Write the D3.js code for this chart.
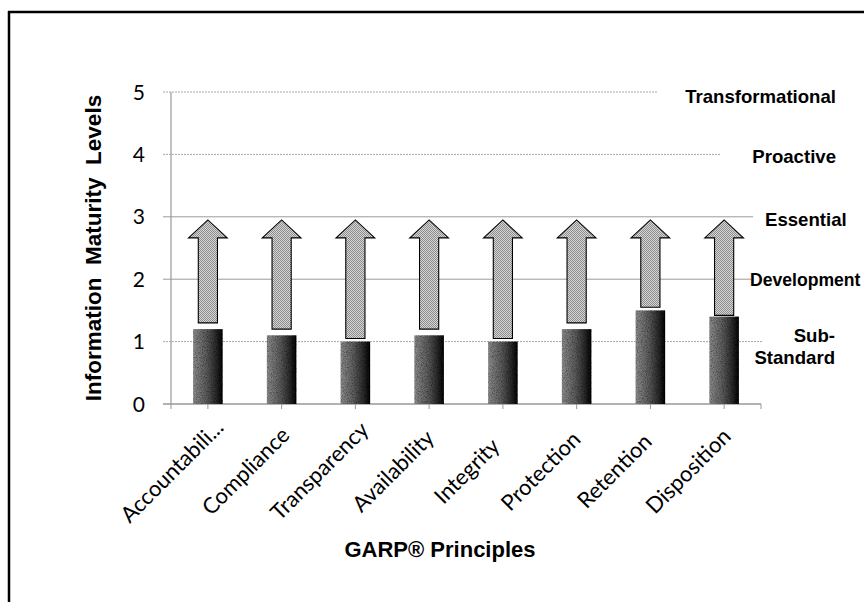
<!DOCTYPE html>
<html>
<head>
<meta charset="utf-8">
<script src="https://cdn.jsdelivr.net/npm/d3@7"></script>
<style>
  html, body { margin: 0; padding: 0; background: #fff; }
  svg { display: block; }
</style>
</head>
<body>
<svg id="chart" width="864" height="602"></svg>
<script>
// ---------- data ----------
const categories = ["Accountabili...", "Compliance", "Transparency", "Availability",
                    "Integrity", "Protection", "Retention", "Disposition"];
const currentLevels = [1.2, 1.1, 1.0, 1.1, 1.0, 1.2, 1.5, 1.4];
const arrowStarts   = [1.3, 1.2, 1.05, 1.2, 1.05, 1.3, 1.55, 1.42];
const arrowTarget   = 2.95;
const yTicks        = [0, 1, 2, 3, 4, 5];
const levelValues   = [5, 4, 3, 2, 1];
const levelNames    = [["Transformational"], ["Proactive"], ["Essential"], ["Development"], ["Sub-", "Standard"]];
const yTitle = "Information  Maturity  Levels";
const xTitle = "GARP\u00AE Principles";

// ---------- layout / style ----------
const svg = d3.select("#chart");
const W = 864, H = 602;
const plot = { left: 171, right: 761, top: 92, bottom: 404 };
// per level line: [x end, dashed?]
const gridStyle = { 5: [657, true], 4: [720, true], 3: [753, false], 2: [751, false], 1: [762, true] };
// per level label: [x, anchor, dy]
const labelStyle = [
  [836, "end", 4], [836, "end", 2], [765, "start", 3], [750, "start", 0], [835, "end", 5]
];

const x = d3.scaleBand().domain(categories).range([plot.left, plot.right]).padding(0);
const y = d3.scaleLinear().domain([0, 5]).range([plot.bottom, plot.top]);

// ---------- defs ----------
const defs = svg.append("defs");
const grad = defs.append("linearGradient").attr("id", "barGrad")
  .attr("x1", "0%").attr("x2", "100%").attr("y1", "0%").attr("y2", "0%");
[[0, "#8e8e8e"], [0.45, "#5c5c5c"], [0.8, "#262626"], [1, "#000"]].forEach(([o, c]) =>
  grad.append("stop").attr("offset", o).attr("stop-color", c));

const noise = defs.append("filter").attr("id", "speckle")
  .attr("x", 0).attr("y", 0).attr("width", 1).attr("height", 1);
noise.append("feTurbulence").attr("type", "fractalNoise").attr("baseFrequency", 1.2)
  .attr("numOctaves", 1).attr("seed", 3).attr("result", "n");
noise.append("feColorMatrix").attr("in", "n").attr("type", "matrix")
  .attr("values", "0 0 0 0 0  0 0 0 0 0  0 0 0 0 0  0 0 0 -1.6 1.0").attr("result", "m");
noise.append("feComposite").attr("in", "m").attr("in2", "SourceGraphic").attr("operator", "in").attr("result", "d");
noise.append("feBlend").attr("in", "SourceGraphic").attr("in2", "d").attr("mode", "normal").attr("result", "b");
noise.append("feComposite").attr("in", "d").attr("in2", "SourceGraphic").attr("operator", "over");

const pat = defs.append("pattern").attr("id", "checker").attr("patternUnits", "userSpaceOnUse")
  .attr("width", 2).attr("height", 2);
pat.append("rect").attr("width", 2).attr("height", 2).attr("fill", "#d6d6d6");
pat.append("rect").attr("x", 0).attr("y", 0).attr("width", 1).attr("height", 1).attr("fill", "#8c8c8c");
pat.append("rect").attr("x", 1).attr("y", 1).attr("width", 1).attr("height", 1).attr("fill", "#8c8c8c");

// ---------- frame ----------
svg.append("line").attr("x1", 9).attr("x2", 9).attr("y1", 11).attr("y2", H)
  .attr("stroke", "#000").attr("stroke-width", 2.5);
svg.append("line").attr("x1", 8).attr("x2", W).attr("y1", 12).attr("y2", 12)
  .attr("stroke", "#000").attr("stroke-width", 2.5);

// ---------- grid lines ----------
levelValues.forEach(v => {
  const [xe, dashed] = gridStyle[v];
  svg.append("line")
    .attr("x1", plot.left - 8).attr("x2", xe)
    .attr("y1", y(v)).attr("y2", y(v))
    .attr("stroke", dashed ? "#a8a8a8" : "#9a9a9a")
    .attr("stroke-width", 1)
    .attr("stroke-dasharray", dashed ? "2,1" : null);
});

// ---------- axes ----------
svg.append("line").attr("x1", plot.left).attr("x2", plot.left)
  .attr("y1", y(5)).attr("y2", y(0)).attr("stroke", "#999").attr("stroke-width", 1.2);
svg.append("line").attr("x1", plot.left - 8).attr("x2", plot.right)
  .attr("y1", y(0)).attr("y2", y(0)).attr("stroke", "#999").attr("stroke-width", 1.5);

const xTickPos = [plot.left, ...categories.map(c => x(c) + x.bandwidth() / 2), plot.right];
svg.selectAll(".xtick").data(xTickPos).join("line")
  .attr("x1", d => d).attr("x2", d => d)
  .attr("y1", y(0)).attr("y2", y(0) + 5)
  .attr("stroke", "#999").attr("stroke-width", 1);

svg.selectAll(".ylab").data(yTicks).join("text")
  .attr("x", 145).attr("y", d => y(d))
  .attr("dy", "0.36em")
  .attr("text-anchor", "end")
  .attr("font-family", "Lato, 'Open Sans', sans-serif")
  .attr("font-size", 21)
  .attr("fill", "#000")
  .text(d => d);

// ---------- bars ----------
const bw = x.bandwidth() * 0.4;
svg.selectAll(".bar").data(categories).join("rect")
  .attr("x", (d) => x(d) + (x.bandwidth() - bw) / 2)
  .attr("width", bw)
  .attr("y", (d, i) => y(currentLevels[i]))
  .attr("height", (d, i) => y(0) - y(currentLevels[i]))
  .attr("fill", "url(#barGrad)")
  .attr("filter", "url(#speckle)");

// ---------- arrows ----------
const shaftW = x.bandwidth() * 0.26, headW = x.bandwidth() * 0.525, headH = 18;
svg.selectAll(".arrow").data(categories).join("path")
  .attr("d", (d, i) => {
    const cx = x(d) + x.bandwidth() / 2;
    const yb = y(arrowStarts[i]), yt = y(arrowTarget), yh = yt + headH;
    return `M${cx - shaftW / 2},${yb} L${cx - shaftW / 2},${yh} L${cx - headW / 2},${yh} ` +
           `L${cx},${yt} L${cx + headW / 2},${yh} L${cx + shaftW / 2},${yh} L${cx + shaftW / 2},${yb} Z`;
  })
  .attr("fill", "url(#checker)")
  .attr("stroke", "#000").attr("stroke-width", 1.1)
  .attr("stroke-linejoin", "miter");

// ---------- level labels ----------
levelValues.forEach((v, i) => {
  const [lx, anchor, dy] = labelStyle[i];
  const lines = levelNames[i];
  const lh = 22.3;
  const t = svg.append("text")
    .attr("font-family", "'Liberation Sans', Arial, sans-serif")
    .attr("font-weight", "bold")
    .attr("font-size", lines[0] === "Development" ? 17.6 : 18.6)
    .attr("text-anchor", anchor)
    .attr("fill", "#000");
  lines.forEach((ln, k) => {
    t.append("tspan").attr("x", lx)
      .attr("y", y(v) + dy + (k - (lines.length - 1) / 2) * lh)
      .attr("dy", "0.36em")
      .text(ln);
  });
});

// ---------- category labels ----------
svg.selectAll(".xlab").data(categories).join("text")
  .attr("transform", d => `translate(${x(d) + x.bandwidth() / 2 - 36},${471}) rotate(-45)`)
  .attr("text-anchor", "middle")
  .attr("dy", "0.35em")
  .attr("font-family", "Lato, 'Open Sans', sans-serif")
  .attr("font-size", 22)
  .attr("fill", "#000")
  .text(d => d);

// ---------- titles ----------
svg.append("text")
  .attr("transform", `translate(101,${(y(0) + y(5)) / 2}) rotate(-90)`)
  .attr("text-anchor", "middle")
  .attr("font-family", "'Liberation Sans', Arial, sans-serif")
  .attr("font-weight", "bold").attr("font-size", 22.5)
  .attr("xml:space", "preserve")
  .style("white-space", "pre")
  .text(yTitle);

svg.append("text")
  .attr("x", 440).attr("y", 557)
  .attr("text-anchor", "middle")
  .attr("font-family", "'Liberation Sans', Arial, sans-serif")
  .attr("font-weight", "bold").attr("font-size", 22)
  .text(xTitle);
</script>
</body>
</html>
